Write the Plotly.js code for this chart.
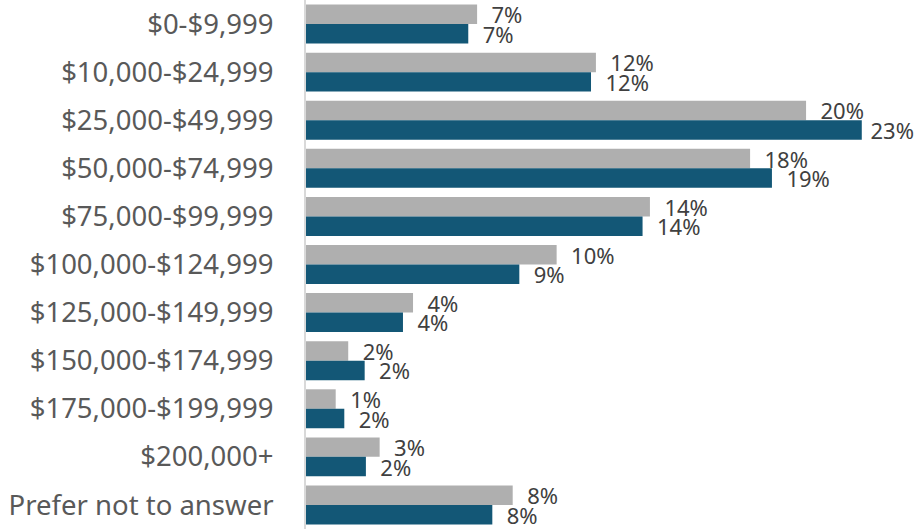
<!DOCTYPE html>
<html>
<head>
<meta charset="utf-8">
<script src="https://cdn.plot.ly/plotly-3.0.1.min.js"></script>
<style>html,body{margin:0;padding:0;background:#fff;}</style>
</head>
<body>
<div id="chart" style="width:918px;height:530px;"></div>
<script>
var categories = ["$0-$9,999", "$10,000-$24,999", "$25,000-$49,999", "$50,000-$74,999",
  "$75,000-$99,999", "$100,000-$124,999", "$125,000-$149,999", "$150,000-$174,999",
  "$175,000-$199,999", "$200,000+", "Prefer not to answer"];
var seriesGray = [6.97, 11.81, 20.37, 18.09, 14.01, 10.21, 4.36, 1.72, 1.21, 3.00, 8.42];
var seriesBlue = [6.61, 11.61, 22.64, 18.98, 13.71, 8.69, 3.95, 2.39, 1.56, 2.44, 7.59];

var labelFont = {family: "Noto Sans, Open Sans, sans-serif", size: 22, color: "#404040"};
var pad2 = "\u00a0\u00a0%{x:.0f}%";
var blueTemplates = seriesBlue.map(function (v) { return v > 22 ? "\u00a0%{x:.0f}%" : pad2; });

var traces = [
  {type: "bar", orientation: "h", name: "Gray", y: categories, x: seriesGray,
   marker: {color: "#afafaf"}, texttemplate: pad2, textposition: "outside",
   outsidetextfont: labelFont, textfont: labelFont, constraintext: "none", cliponaxis: false,
   hoverinfo: "skip"},
  {type: "bar", orientation: "h", name: "Blue", y: categories, x: seriesBlue,
   marker: {color: "#135776"}, texttemplate: blueTemplates, textposition: "outside",
   outsidetextfont: labelFont, textfont: labelFont, constraintext: "none", cliponaxis: false,
   hoverinfo: "skip"}
];

var layout = {
  width: 918, height: 530,
  margin: {l: 306, r: 0, t: 0, b: 1, pad: 0},
  paper_bgcolor: "#ffffff", plot_bgcolor: "#ffffff",
  barmode: "group", bargap: 0.19, bargroupgap: 0,
  showlegend: false,
  xaxis: {range: [0, 24.93], visible: false, fixedrange: true},
  yaxis: {type: "category", autorange: "reversed", showgrid: false, zeroline: false,
          showline: true, linecolor: "#d9d9d9", linewidth: 2, ticks: "",
          ticklabelstandoff: 25,
          tickfont: {family: "Noto Sans, Open Sans, sans-serif", size: 27.5, color: "#595959"},
          fixedrange: true}
};

Plotly.newPlot("chart", traces, layout, {displayModeBar: false, staticPlot: true});
</script>
</body>
</html>
